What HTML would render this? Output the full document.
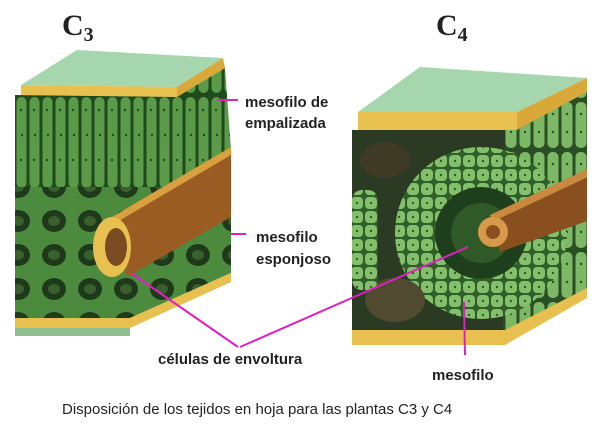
<!DOCTYPE html>
<html><head><meta charset="utf-8"><style>
html,body{margin:0;padding:0;background:#fff}
body{width:600px;height:431px;overflow:hidden}
</style></head><body>
<svg width="600" height="431" viewBox="0 0 600 431" xmlns="http://www.w3.org/2000/svg">
<defs>
<pattern id="cells" width="13" height="95" patternUnits="userSpaceOnUse" x="15" y="95">
<rect width="13" height="95" fill="#1f4a1c"/>
<rect x="1.5" y="2" width="10" height="91" rx="5" fill="#5a9a48"/>
<circle cx="6" cy="15" r="1.2" fill="#1f4a1c"/><circle cx="7" cy="40" r="1.2" fill="#1f4a1c"/><circle cx="6" cy="65" r="1.2" fill="#1f4a1c"/>
</pattern>
<pattern id="vcells" width="14" height="50" patternUnits="userSpaceOnUse">
<rect width="14" height="50" fill="#2a4f24"/>
<rect x="1.5" y="2" width="11" height="46" rx="5" fill="#7cb866"/>
<circle cx="7" cy="14" r="1.2" fill="#2a4f24"/><circle cx="7" cy="32" r="1.2" fill="#2a4f24"/>
</pattern>
<pattern id="sponge" width="36" height="34" patternUnits="userSpaceOnUse">
<rect width="36" height="34" fill="#4c8a3e"/>
<ellipse cx="18" cy="17" rx="12" ry="11" fill="#1e3a1a"/>
<ellipse cx="18" cy="17" rx="6" ry="5" fill="#3a5f2e"/>
</pattern>
<pattern id="ring" width="14" height="14" patternUnits="userSpaceOnUse">
<rect width="14" height="14" fill="#2f5f28"/>
<rect x="1" y="1" width="12" height="12" rx="4" fill="#84c06c"/>
<circle cx="7" cy="7" r="1.2" fill="#2f5f28"/>
</pattern>
<clipPath id="rb"><polygon points="352,130 517,130 587,92 587,293 503,335 352,335"/></clipPath>
</defs>

<!-- LEFT BLOCK -->
<polygon points="21,85 77,50 223,58 177,87" fill="#a6d6ae"/>
<polygon points="21,85 177,87 177,97 21,95" fill="#e8c050"/>
<polygon points="177,87 223,58 225,68 177,97" fill="#d8a838"/>
<polygon points="15,95 177,97 177,190 15,190" fill="url(#cells)"/>
<polygon points="177,97 225,68 231,150 177,190" fill="url(#cells)"/>
<polygon points="15,187 177,187 231,150 231,273 130,318 15,318" fill="url(#sponge)"/>
<polygon points="112,217 231,147 231,217 127,277" fill="#9a5c22"/>
<polygon points="112,217 231,147 231,155 112,225" fill="#d9a040"/>
<ellipse cx="112" cy="247" rx="19" ry="30" fill="#e8c050"/>
<ellipse cx="116" cy="247" rx="11" ry="19" fill="#7a4a20"/>
<polygon points="15,318 130,318 231,273 231,282 130,328 15,328" fill="#e8c050"/>
<polygon points="15,328 130,328 130,336 15,336" fill="#8fbf90"/>

<!-- RIGHT BLOCK -->
<polygon points="358,112 420,67 587,78 517,112" fill="#a6d6ae"/>
<polygon points="358,112 517,112 517,130 358,130" fill="#e8c050"/>
<polygon points="517,112 587,78 587,92 517,130" fill="#d8a838"/>
<polygon points="352,130 517,130 587,92 587,293 503,335 352,335" fill="#2b3a22"/>
<g clip-path="url(#rb)">
<polygon points="505,130 587,92 587,293 503,335" fill="url(#vcells)"/>
<circle cx="481" cy="233" r="86" fill="url(#ring)"/>
<circle cx="481" cy="233" r="46" fill="#1f3f1c"/>
<circle cx="481" cy="233" r="30" fill="#2f5a28"/>
<polygon points="490,215 590,168 590,220 500,252" fill="#8a4f1e"/>
<polygon points="490,215 590,168 590,176 492,222" fill="#c98a40"/>
<circle cx="493" cy="232" r="15" fill="#d79a4a"/>
<circle cx="493" cy="232" r="7" fill="#8a4f1e"/>
<ellipse cx="395" cy="300" rx="30" ry="22" fill="#4f4a30"/>
<ellipse cx="385" cy="160" rx="25" ry="18" fill="#3e3a26"/>
<rect x="352" y="190" width="26" height="100" rx="10" fill="url(#ring)"/>
</g>
<polygon points="352,330 505,330 587,288 587,298 505,345 352,345" fill="#e8c050"/>

<!-- pointer lines -->
<g stroke="#e020c0" stroke-width="2" fill="none">
<line x1="238" y1="100" x2="218" y2="100"/>
<line x1="246" y1="234" x2="231" y2="234"/>
<line x1="238" y1="347" x2="131" y2="273"/>
<line x1="240" y1="347" x2="468" y2="247"/>
<line x1="464" y1="302" x2="465" y2="355"/>
</g>

<text x="62" y="35" font-family="Liberation Serif,serif" font-size="30" font-weight="bold" fill="#222">C<tspan font-size="20" dy="6">3</tspan></text>
<text x="436" y="35" font-family="Liberation Serif,serif" font-size="30" font-weight="bold" fill="#222">C<tspan font-size="20" dy="6">4</tspan></text>

<g font-family="Liberation Sans,sans-serif" font-size="15" font-weight="bold" fill="#222">
<text x="245" y="107">mesofilo de</text>
<text x="245" y="128">empalizada</text>
<text x="256" y="242">mesofilo</text>
<text x="256" y="264">esponjoso</text>
<text x="158" y="364">células de envoltura</text>
<text x="432" y="380">mesofilo</text>
</g>
<text x="62" y="414" font-family="Liberation Sans,sans-serif" font-size="15" fill="#222">Disposición de los tejidos en hoja para las plantas C3 y C4</text>
</svg>
</body></html>
